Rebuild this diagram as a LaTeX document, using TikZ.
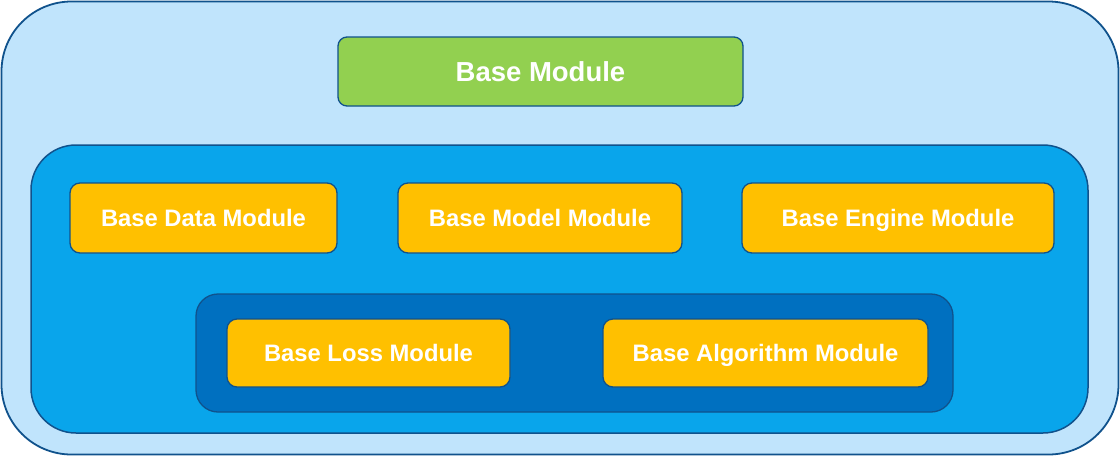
\documentclass[tikz,border=0pt]{standalone}
\usepackage{fontspec}
\setmainfont{Liberation Sans}
\definecolor{outerfill}{RGB}{192,228,252}
\definecolor{midfill}{RGB}{9,165,235}
\definecolor{innerfill}{RGB}{0,112,192}
\definecolor{edgeblue}{RGB}{16,82,140}
\definecolor{boxorange}{RGB}{255,192,0}
\definecolor{boxgreen}{RGB}{146,208,80}
\tikzset{
  container/.style={draw=edgeblue, line width=1.8pt, inner sep=0pt},
  modbox/.style={draw=edgeblue, line width=1.3pt, fill=boxorange, rounded corners=10pt,
    inner sep=0pt, minimum height=70pt, text=white, text height=17pt, text depth=0pt,
    font=\fontsize{23.8}{28}\selectfont\bfseries},
}
\begin{document}
\begin{tikzpicture}[x=1pt,y=-1pt]
\useasboundingbox (0,0) rectangle (1120,456);
\node[container, fill=outerfill, rounded corners=70pt, minimum width=1117pt, minimum height=453pt] (outer) at (560,228) {};
\node[modbox, fill=boxgreen, rounded corners=9pt, minimum width=405pt, minimum height=69pt,
  text height=19.7pt, font=\fontsize{27.5}{32}\selectfont\bfseries] (base) at (540.5,71.5) {Base Module};
\node[container, fill=midfill, rounded corners=45pt, line width=1.5pt, minimum width=1057pt, minimum height=288pt] (mid) at (559.5,289) {};
\node[modbox, minimum width=267pt] (data) at (203.5,218) {Base Data Module};
\node[modbox, minimum width=284pt] (model) at (540,218) {Base Model Module};
\node[modbox, minimum width=312pt] (engine) at (898,218) {Base Engine Module};
\node[container, fill=innerfill, rounded corners=22pt, line width=1.3pt, minimum width=757pt, minimum height=118pt] (inner) at (574.5,353) {};
\node[modbox, minimum width=283pt, minimum height=68pt] (loss) at (368.5,353) {Base Loss Module};
\node[modbox, minimum width=325pt, minimum height=68pt] (algo) at (765.5,353) {Base Algorithm Module};
\end{tikzpicture}
\end{document}
